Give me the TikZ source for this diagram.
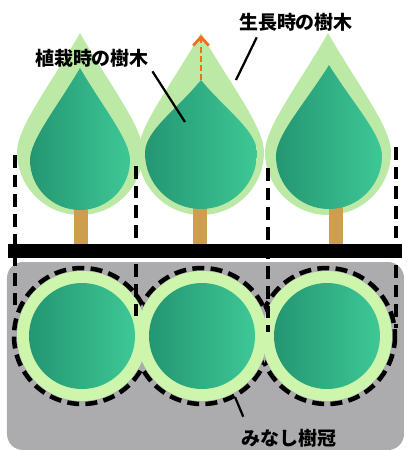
\documentclass[tikz,border=0pt]{standalone}
\usepackage{fontspec}
\usepackage{tikz}
\usetikzlibrary{arrows.meta}
\newfontfamily\jpfont{Noto Sans CJK JP}

\definecolor{crowngreen}{RGB}{188,234,166}
\definecolor{ringgreen}{RGB}{206,245,172}
\definecolor{leafdark}{RGB}{36,150,114}
\definecolor{leaflight}{RGB}{62,200,150}
\definecolor{trunkbrown}{RGB}{204,158,78}
\definecolor{groundgray}{RGB}{172,172,175}
\definecolor{groworange}{RGB}{240,110,30}

% drop shaped crown: centre x, centre y, radius, tip y
\newcommand{\droppath}[4]{%
  (#1,#4) .. controls ({#1-0.45*#3},{#4+0.42*(#2-#4)}) and ({#1-#3},{#2-0.4*#3}) .. ({#1-#3},#2)
  .. controls ({#1-#3},{#2+0.552*#3}) and ({#1-0.552*#3},{#2+#3}) .. (#1,{#2+#3})
  .. controls ({#1+0.552*#3},{#2+#3}) and ({#1+#3},{#2+0.552*#3}) .. ({#1+#3},#2)
  .. controls ({#1+#3},{#2-0.4*#3}) and ({#1+0.45*#3},{#4+0.42*(#2-#4)}) .. (#1,#4) -- cycle}

\begin{document}
\begin{tikzpicture}[
  x=0.025cm, y=-0.025cm,
  crown/.style={fill=crowngreen,draw=none},
  leaf/.style={left color=leafdark,right color=leaflight,draw=none},
  trunk/.style={fill=trunkbrown,draw=none},
  cutline/.style={line width=3.5pt,dash pattern=on 9pt off 5pt},
  crownline/.style={line width=3.2pt,dash pattern=on 8.5pt off 4.5pt},
  leader/.style={line width=1.6pt},
  growarrow/.style={line width=2pt,groworange,dash pattern=on 4pt off 2.5pt},
  tag/.style={font=\jpfont\bfseries\fontsize{13.5}{16}\selectfont,inner sep=0pt}
]
\useasboundingbox (0,0) rectangle (407,450);

\fill[groundgray,rounded corners=0.4cm] (7,262) rectangle (404,450);
\draw[line width=10pt] (8,251) -- (402,251);

\foreach \cx in {80,201,328}
  \fill[crown] \droppath{\cx}{152}{63}{33};

\foreach \tx in {81,200,336}
  \fill[trunk] ({\tx-7},200) rectangle ({\tx+7},244);

\shade[leaf] \droppath{80}{160}{50}{68};
\shade[leaf] \droppath{201}{153}{56}{80};
\shade[leaf] \droppath{329}{156}{53}{65};

\foreach \cx in {82,202,327}
  \fill[ringgreen] (\cx,336) circle[radius=65];
\foreach \cx in {82,202,327}
  \shade[leaf] (\cx,336) circle[radius=53];

\begin{scope}[even odd rule]
  \clip (0,0) rectangle (407,450) (202,336) circle[radius=68];
  \draw[crownline] (82,336) circle[radius=68];
  \draw[crownline] (327,336) circle[radius=68];
\end{scope}
\begin{scope}[even odd rule]
  \clip (0,0) rectangle (407,450) (82,336) circle[radius=68] (327,336) circle[radius=68];
  \draw[crownline] (202,336) circle[radius=68];
\end{scope}

\foreach \ex/\top/\bot in {15/155/308,136/166/320,268/168/332,396/147/328}
  \draw[cutline] (\ex,\top) -- (\ex,\bot);

\coordinate (growbase) at (201,80);
\coordinate (growtop) at (201,35);
\draw[growarrow,-{Straight Barb[length=6pt,width=11pt,line width=2pt]}] (growbase) -- (growtop);

\node[tag] (lblplant) at (92,58) {植栽時の樹木};
\node[tag] (lblgrow) at (296,22) {生長時の樹木};
\node[tag] (lblcrown) at (289,438) {みなし樹冠};

\coordinate (plantpt) at (185,122);
\coordinate (growpt) at (236,80);
\coordinate (crownpt) at (235,397);
\draw[leader] ([xshift=0.08cm,yshift=-0.1cm]lblplant.south east) -- (plantpt);
\draw[leader] ([xshift=0.45cm,yshift=-0.15cm]lblgrow.south west) -- (growpt);
\draw[leader] ([xshift=0.05cm,yshift=0.3cm]lblcrown.north west) -- (crownpt);
\end{tikzpicture}
\end{document}
